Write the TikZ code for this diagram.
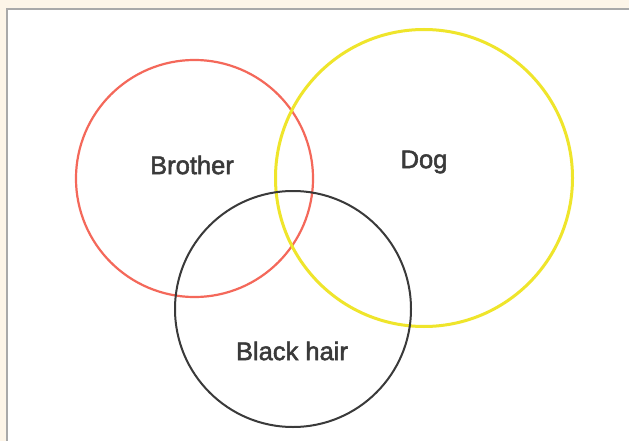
\documentclass[tikz,border=0pt]{standalone}
\usepackage{fontspec}
\setmainfont{Liberation Sans}
\newfontfamily\labelfont{Liberation Sans}[FakeBold=2]
\definecolor{paper}{HTML}{FDF5E8}
\definecolor{frame}{HTML}{A9A9A9}
\definecolor{setred}{HTML}{F4685A}
\definecolor{setyellow}{HTML}{EFE52B}
\definecolor{setblack}{HTML}{3A3A3A}
\definecolor{labelgray}{HTML}{3A3A3A}

\begin{document}
\begin{tikzpicture}[x=1pt,y=-1pt,
  setcircle/.style={circle,draw,inner sep=0pt},
  setlabel/.style={text=labelgray,font=\labelfont\fontsize{25.5}{30}\selectfont}]
\useasboundingbox (0,0) rectangle (629,441);
\fill[paper] (0,0) rectangle (629,441);
% panel
\filldraw[fill=white,draw=frame,line width=2.2pt] (7,9) rectangle (640,452);
% sets
\node[setcircle,setred,line width=2.2pt,minimum size=237pt] (brother) at (194.5,178.5) {};
\node[setcircle,setyellow,line width=3pt,minimum size=297pt] (dog) at (424,178) {};
\node[setcircle,setblack,line width=2pt,minimum size=236pt] (hair) at (293,309) {};
% labels
\node[setlabel] (brotherlabel) at (192,165) {Brother};
\node[setlabel] (doglabel) at (424,162) {Dog};
\node[setlabel] (hairlabel) at (292,351) {Black hair};
\end{tikzpicture}
\end{document}
